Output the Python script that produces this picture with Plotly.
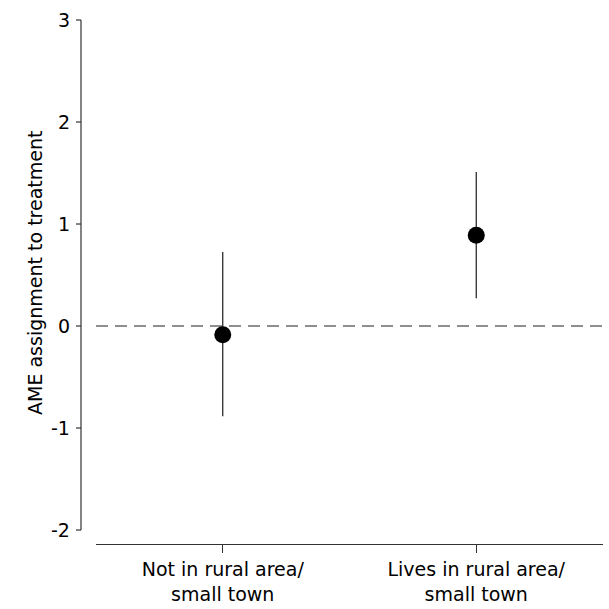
import plotly.graph_objects as go

# Average marginal effects of assignment to treatment, by residence
categories = ["Not in rural area/<br>small town", "Lives in rural area/<br>small town"]
x_pos = [1, 2]
ame = [-0.085, 0.89]
ci_low = [-0.885, 0.273]
ci_high = [0.725, 1.51]
y_ticks = [-2, -1, 0, 1, 2, 3]

FONT = "DejaVu Sans"
Y_MIN, Y_MAX = -2.137, 3.049
PLOT_W = 507  # plot area width in px, used for paper offsets

fig = go.Figure()

# confidence intervals as vertical segments
for xp, lo, hi in zip(x_pos, ci_low, ci_high):
    fig.add_trace(go.Scatter(
        x=[xp, xp], y=[lo, hi], mode="lines",
        line=dict(color="#1a1a1a", width=1.2),
        showlegend=False, hoverinfo="skip",
    ))

# point estimates
fig.add_trace(go.Scatter(
    x=x_pos, y=ame, mode="markers",
    marker=dict(color="black", size=17),
    showlegend=False,
))

# zero reference line
fig.add_shape(type="line", xref="paper", yref="y", x0=0, x1=1, y0=0, y1=0,
              line=dict(color="#6a6a6a", width=1.3, dash="12px,7px"), layer="below")

# y axis line spanning only the labelled range
fig.add_shape(type="line", xref="paper", yref="y",
              x0=-15 / PLOT_W, x1=-15 / PLOT_W, y0=min(y_ticks), y1=max(y_ticks),
              line=dict(color="#333333", width=1.2))

fig.update_layout(
    width=609, height=609,
    margin=dict(l=96, r=6, t=15, b=65),
    plot_bgcolor="white", paper_bgcolor="white",
    font=dict(family=FONT, size=18, color="black"),
    xaxis=dict(
        range=[0.5, 2.5], tickvals=x_pos, ticktext=categories,
        showline=True, linecolor="#333333", linewidth=1.2,
        ticks="outside", ticklen=8, tickcolor="#333333", tickwidth=1.2,
        showgrid=False, zeroline=False, automargin=False,
        tickfont=dict(family=FONT, size=19),
    ),
    yaxis=dict(
        range=[Y_MIN, Y_MAX], tickvals=y_ticks,
        showline=False, ticks="", showgrid=False, zeroline=False,
        showticklabels=False, automargin=False,
    ),
)

# y tick marks and labels placed next to the offset axis line
for v in y_ticks:
    fig.add_shape(type="line", xref="paper", yref="y",
                  x0=-20 / PLOT_W, x1=-15 / PLOT_W, y0=v, y1=v,
                  line=dict(color="#333333", width=1.2))
    fig.add_annotation(x=-24 / PLOT_W, y=v, xref="paper", yref="y",
                       text=str(v), showarrow=False, xanchor="right",
                       font=dict(family=FONT, size=19))

fig.add_annotation(x=-74 / PLOT_W, y=0.52, xref="paper", yref="y",
                   text="AME assignment to treatment", textangle=-90,
                   showarrow=False, font=dict(family=FONT, size=19))

fig.write_html("out.html")
